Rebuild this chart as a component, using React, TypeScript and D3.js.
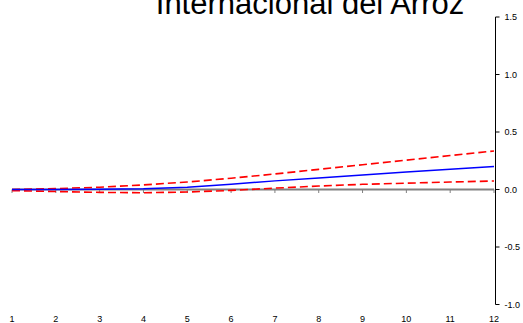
import React from "react";
import * as d3 from "d3";

const periods = [1, 2, 3, 4, 5, 6, 7, 8, 9, 10, 11, 12];
const response = [0.0, 0.0, 0.002, 0.006, 0.02, 0.045, 0.075, 0.1, 0.127, 0.152, 0.176, 0.2];
const upperBand = [0.0, 0.008, 0.02, 0.04, 0.065, 0.098, 0.135, 0.175, 0.215, 0.255, 0.295, 0.335];
const lowerBand = [-0.01, -0.018, -0.025, -0.028, -0.022, -0.008, 0.012, 0.03, 0.045, 0.055, 0.065, 0.074];
const yTicks = [-1.0, -0.5, 0.0, 0.5, 1.0, 1.5];
const title = "Internacional del Arroz";

export default function App() {
  const W = 523;
  const H = 323;
  const x = d3.scaleLinear().domain([1, 12]).range([12, 494]);
  const y = d3.scaleLinear().domain([-1, 1.5]).range([304.5, 17]);
  const axisX = 495.5;

  const mk = (vals: number[]) =>
    d3
      .line<number>()
      .x((_, i) => x(periods[i]))
      .y((v) => y(v))(vals) as string;

  return (
    <svg
      width={W}
      height={H}
      style={{ position: "fixed", left: 0, top: 0, background: "#fff" }}
      fontFamily="'Liberation Sans', Arial, sans-serif"
    >
      <rect x={0} y={0} width={W} height={H} fill="#fff" />
      <text x={310} y={14} textAnchor="middle" fontSize={31} fill="#000">
        {title}
      </text>
      {/* zero line */}
      <line x1={x(1)} x2={x(12)} y1={y(0)} y2={y(0)} stroke="#808080" strokeWidth={2} />
      {periods.map((p) => (
        <line key={"xt" + p} x1={x(p)} x2={x(p)} y1={y(0)} y2={y(0) + 3.5} stroke="#808080" strokeWidth={1} />
      ))}
      {periods.map((p) => (
        <text key={"xl" + p} x={x(p)} y={322} textAnchor="middle" fontSize={9} fill="#000">
          {p}
        </text>
      ))}
      {/* right axis */}
      <line x1={axisX} x2={axisX} y1={y(1.5)} y2={y(-1)} stroke="#000" strokeWidth={1} />
      {yTicks.map((t) => (
        <g key={"yt" + t}>
          <line x1={axisX} x2={axisX + 4} y1={y(t)} y2={y(t)} stroke="#000" strokeWidth={1} />
          <text x={axisX + 9} y={y(t)} dy="0.35em" fontSize={9} fill="#000">
            {t.toFixed(1)}
          </text>
        </g>
      ))}
      <path d={mk(upperBand)} fill="none" stroke="#ff0000" strokeWidth={1.6} strokeDasharray="8,4" />
      <path d={mk(lowerBand)} fill="none" stroke="#ff0000" strokeWidth={1.6} strokeDasharray="8,4" />
      <path d={mk(response)} fill="none" stroke="#0000ff" strokeWidth={1.5} />
    </svg>
  );
}
